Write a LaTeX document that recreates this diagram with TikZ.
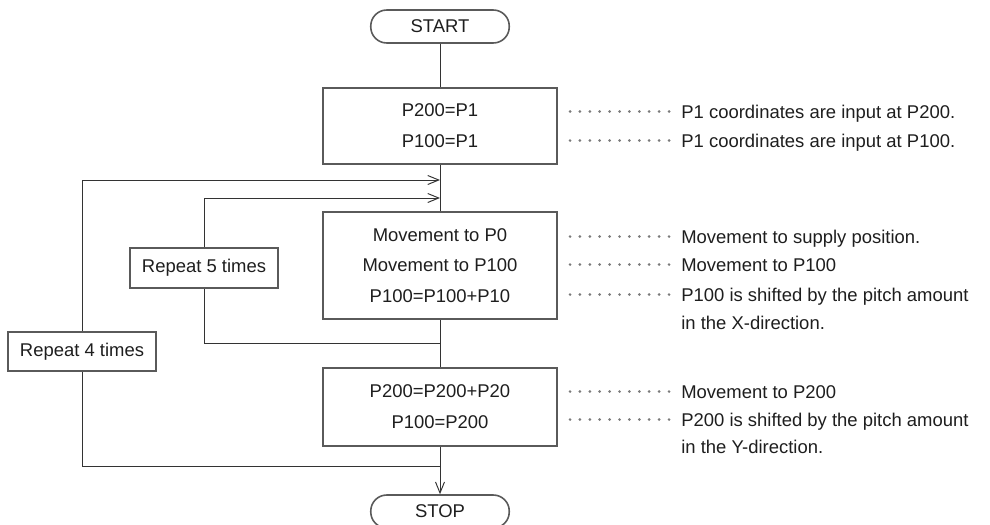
\documentclass[tikz,border=0pt]{standalone}
\usepackage{fontspec}
\setmainfont{Liberation Sans}
\usetikzlibrary{arrows.meta}
\definecolor{boxgray}{HTML}{5A5A5A}
\definecolor{linegray}{HTML}{333333}
\definecolor{txtgray}{HTML}{1E1E1E}
\definecolor{dotgray}{HTML}{7A7A7A}
\tikzset{
  flowbox/.style={draw=boxgray, line width=0.9pt, minimum width=4.68cm, align=center, text=txtgray, font=\fontsize{10.5}{17.5}\selectfont},
  termbox/.style={draw=boxgray, line width=0.9pt, rounded corners=0.32cm, minimum width=2.77cm, minimum height=0.66cm, text=txtgray, font=\fontsize{10.5}{12}\selectfont},
  loopbox/.style={draw=boxgray, line width=0.9pt, minimum width=2.96cm, minimum height=0.79cm, text=txtgray, font=\fontsize{10.5}{12}\selectfont},
  link/.style={draw=linegray, line width=0.55pt},
  linkarrow/.style={link, -{Straight Barb[length=2.2mm,width=1.8mm]}},
  note/.style={anchor=base west, inner sep=0pt, text=txtgray, font=\fontsize{10.5}{12}\selectfont},
}
\begin{document}
\begin{tikzpicture}[x=0.02cm,y=-0.02cm]
        \useasboundingbox (0,0) rectangle (990,524);
        % flow boxes
        \node[termbox] (start) at (440,26.5) {START};
        \node[flowbox, minimum height=1.52cm] (setp) at (440,126) {P200=P1\\P100=P1};
        \node[flowbox, minimum height=2.14cm] (move) at (440,265.5) {Movement to P0\\Movement to P100\\P100=P100+P10};
        \node[flowbox, minimum height=1.56cm] (shift) at (440,407) {P200=P200+P20\\P100=P200};
        \node[termbox] (stop) at (440,511.5) {STOP};
        % loop boxes
        \node[loopbox] (rep5) at (204,268) {Repeat 5 times};
        \node[loopbox] (rep4) at (82,351.5) {Repeat 4 times};
        % join points
        \coordinate (in4) at (440,180);\coordinate (in5) at (440,198);
        \coordinate (out5) at (440,343);\coordinate (out4) at (440,466);
        % main line
        \draw[link] (start) -- (setp);\draw[link] (setp) -- (move);
        \draw[link] (move) -- (shift);\draw[linkarrow] (shift) -- (stop);
        % loops
        \draw[linkarrow] (rep4.north) |- (in4);\draw[link] (out4) -| (rep4.south);
        \draw[linkarrow] (rep5.north) |- (in5);\draw[link] (out5) -| (rep5.south);
        % notes
        \foreach \n/\y/\t in {1/112/{P1 coordinates are input at P200.},2/141/{P1 coordinates are input at P100.},
            3/237/{Movement to supply position.},4/265/{Movement to P100},5/295/{P100 is shifted by the pitch amount},
            6/323/{in the X-direction.},7/392/{Movement to P200},8/420/{P200 is shifted by the pitch amount},9/447/{in the Y-direction.}}
            \node[note] (note\n) at (681,{\y+6.5}) {\t};
        % dot leaders
        \foreach \y in {112,141,237,265,295,392,420}
            \foreach \i in {0,...,10}
                \fill[dotgray] ({570+9.9*\i},{\y-0.5}) circle (0.85pt);
    \end{tikzpicture}
\end{document}
